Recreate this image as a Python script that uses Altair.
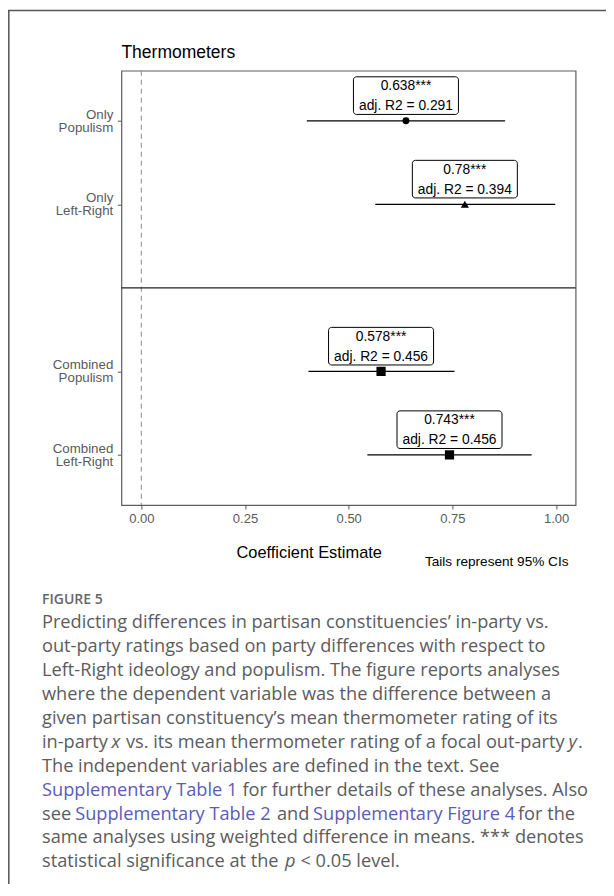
import altair as alt
import pandas as pd

# ---------------- data ----------------
models = ["Only|Populism", "Only|Left-Right", "Combined|Populism", "Combined|Left-Right"]
estimates = [0.638, 0.78, 0.578, 0.743]
ci_low = [0.399, 0.564, 0.403, 0.545]
ci_high = [0.877, 0.998, 0.755, 0.941]
stars = ["***", "***", "***", "***"]
adj_r2 = [0.291, 0.394, 0.456, 0.456]
marker = ["Populism", "Left-Right", "Combined", "Combined"]

x_ticks = [0, 0.25, 0.5, 0.75, 1.0]

chart_title = "Thermometers"
x_title = "Coefficient Estimate"
note = "Tails represent 95% CIs"
fig_label = "FIGURE 5"

caption_lines = [
    [("Predicting differences in partisan constituencies\u2019 in-party vs.", "text", "normal")],
    [("out-party ratings based on party differences with respect to", "text", "normal")],
    [("Left-Right ideology and populism. The figure reports analyses", "text", "normal")],
    [("where the dependent variable was the difference between a", "text", "normal")],
    [("given partisan constituency\u2019s mean thermometer rating of its", "text", "normal")],
    [("in-party", "text", "normal"), ("x", "text", "italic"),
     ("vs. its mean thermometer rating of a focal out-party", "text", "normal"),
     ("y", "text", "italic"), (".", "text", "normal")],
    [("The independent variables are defined in the text. See", "text", "normal")],
    [("Supplementary Table 1", "link", "normal"),
     ("for further details of these analyses. Also", "text", "normal")],
    [("see", "text", "normal"), ("Supplementary Table 2", "link", "normal"),
     ("and", "text", "normal"), ("Supplementary Figure 4", "link", "normal"),
     ("for the", "text", "normal")],
    [("same analyses using weighted difference in means. *** denotes", "text", "normal")],
    [("statistical significance at the", "text", "normal"), ("p", "text", "italic"),
     ("< 0.05 level.", "text", "normal")],
]

# ---------------- layout (pixels) ----------------
PAGE_X0, PAGE_Y0 = 121.4, 70.7          # plot origin on the page
W, H = 454.2, 434.3
XMIN, XMAX = -0.048, 1.047

# caption segment start positions (page px), same shape as caption_lines
seg_x = [
    [42], [42], [42], [42], [42],
    [42, 111.5, 126.0, 568.5, 578.0],
    [42],
    [42, 242.5],
    [42, 75.2, 277.0, 313.0, 518.0],
    [42],
    [42, 285.0, 300.5],
]
CAP_Y0, CAP_DY = 623.3, 23.9
CAP_SIZE = 18.2

df = pd.DataFrame({
    "model": models,
    "est": estimates,
    "lo": ci_low,
    "hi": ci_high,
    "marker": marker,
})
df["label1"] = [f"{e}{s}" for e, s in zip(estimates, stars)]
df["label2"] = [f"adj. R2 = {r}" for r in adj_r2]

rows = []
for i, (line, xs_) in enumerate(zip(caption_lines, seg_x)):
    for (txt, kind, style), px in zip(line, xs_):
        rows.append({
            "text": txt,
            "px": px - PAGE_X0,
            "py": CAP_Y0 + i * CAP_DY - PAGE_Y0,
            "kind": kind,
            "style": style,
        })
cap = pd.DataFrame(rows)

Y_DOMAIN = [models[0], models[1], "sep", models[2], models[3]]
FONT = "Liberation Sans"

xs = alt.Scale(domain=[XMIN, XMAX], nice=False, zero=False)
ys = alt.Scale(type="point", domain=Y_DOMAIN, padding=0.6)

x_axis = alt.Axis(
    values=x_ticks, format=".2f", grid=False, domain=False,
    tickSize=4, tickColor="#555555", tickWidth=1,
    labelColor="#5a5a5a", labelFontSize=13, labelFont=FONT, labelPadding=3,
    title=x_title, titleFontSize=16.4, titleFontWeight="normal", titleFont=FONT,
    titleColor="black", titleX=187.3, titleY=47.7, titleBaseline="middle",
    titleAlign="center",
)
y_axis = alt.Axis(
    values=models, labelExpr="split(datum.value, '|')", title=None,
    grid=False, domain=False, tickSize=4, tickColor="#555555", tickWidth=1,
    labelColor="#5a5a5a", labelFontSize=13.3, labelFont=FONT, labelLineHeight=13,
    labelPadding=4.6, labelBaseline="middle", labelOffset=-6.5,
)

base = alt.Chart(df)

ci = base.mark_rule(color="black", strokeWidth=1.3).encode(
    x=alt.X("lo:Q", scale=xs, axis=x_axis),
    x2="hi:Q",
    y=alt.Y("model:N", scale=ys, axis=y_axis),
)

zero = alt.Chart(pd.DataFrame({"ref": [0.0]})).mark_rule(
    color="#8a8a8a", strokeDash=[5, 4], strokeWidth=1
).encode(x=alt.X("ref:Q"))

sep = alt.Chart(pd.DataFrame({"sep": ["sep"], "a": [XMIN], "b": [XMAX]})).mark_rule(
    color="#222222", strokeWidth=1.4
).encode(y=alt.Y("sep:N"), x=alt.X("a:Q"), x2="b:Q")

boxes = base.mark_rect(
    fill="white", stroke="black", strokeWidth=1, cornerRadius=3,
    xOffset=-52.5, x2Offset=52.5, yOffset=-44, y2Offset=-6.4,
).encode(x="est:Q", x2="est:Q", y="model:N", y2="model:N")

txt1 = base.mark_text(font=FONT, fontSize=13.8, color="black", baseline="middle", dy=-34.7).encode(
    x="est:Q", y="model:N", text="label1:N")
txt2 = base.mark_text(font=FONT, fontSize=13.8, color="black", baseline="middle", dy=-14.7).encode(
    x="est:Q", y="model:N", text="label2:N")

points = base.mark_point(filled=True, opacity=1, color="black").encode(
    x="est:Q", y="model:N",
    shape=alt.Shape("marker:N", legend=None,
                    scale=alt.Scale(domain=["Populism", "Left-Right", "Combined"],
                                    range=["circle", "triangle-up", "square"])),
    size=alt.Size("marker:N", legend=None,
                  scale=alt.Scale(domain=["Populism", "Left-Right", "Combined"],
                                  range=[48, 85, 48])),
)

title_txt = alt.Chart(pd.DataFrame({"t": [chart_title]})).mark_text(
    font=FONT, fontSize=17.5, color="black", align="left", baseline="middle"
).encode(x=alt.value(121.4 - PAGE_X0), y=alt.value(53.5 - PAGE_Y0), text="t:N")

note_txt = alt.Chart(pd.DataFrame({"t": [note]})).mark_text(
    font=FONT, fontSize=13.6, color="black", align="right", baseline="middle"
).encode(x=alt.value(568.5 - PAGE_X0), y=alt.value(561.7 - PAGE_Y0), text="t:N")

fig_txt = alt.Chart(pd.DataFrame({"t": [fig_label]})).mark_text(
    font="Open Sans", fontSize=14, fontWeight=600, color="#666666", align="left", baseline="middle"
).encode(x=alt.value(42 - PAGE_X0), y=alt.value(600 - PAGE_Y0), text="t:N")

cap_color = alt.Color("kind:N", legend=None,
                      scale=alt.Scale(domain=["text", "link"], range=["#5b5c5e", "#5b5bb8"]))
cap_normal = alt.Chart(cap).transform_filter("datum.style == 'normal'").mark_text(
    font="Open Sans", fontSize=CAP_SIZE, align="left", baseline="middle"
).encode(x=alt.X("px:Q", scale=None, axis=None), y=alt.Y("py:Q", scale=None, axis=None),
         text="text:N", color=cap_color)
cap_italic = alt.Chart(cap).transform_filter("datum.style == 'italic'").mark_text(
    font="Open Sans", fontSize=CAP_SIZE, fontStyle="italic", align="left", baseline="middle"
).encode(x=alt.X("px:Q", scale=None, axis=None), y=alt.Y("py:Q", scale=None, axis=None),
         text="text:N", color=cap_color)

frame_top = alt.Chart(pd.DataFrame({"a": [0]})).mark_rule(color="#555555", strokeWidth=1.5).encode(
    x=alt.value(8 - PAGE_X0), x2=alt.value(620 - PAGE_X0), y=alt.value(10.5 - PAGE_Y0))
frame_left = alt.Chart(pd.DataFrame({"a": [0]})).mark_rule(color="#555555", strokeWidth=1.5).encode(
    x=alt.value(8.8 - PAGE_X0), y=alt.value(10.5 - PAGE_Y0), y2=alt.value(900 - PAGE_Y0))

chart = alt.layer(
    zero, sep, ci, boxes, txt1, txt2, points, title_txt,
    note_txt, fig_txt, cap_normal, cap_italic, frame_top, frame_left,
).properties(
    width=W, height=H,
    background="white",
    padding={"left": PAGE_X0 - 8, "top": PAGE_Y0 - 8, "right": 598 - (PAGE_X0 - 8) - W,
             "bottom": 876 - (PAGE_Y0 - 8) - H},
    autosize=alt.AutoSizeParams(type="none"),
).configure_view(
    stroke="#5e5e5e", strokeWidth=1.2
)

chart.save("out.html", embed_options={"renderer": "svg", "actions": False})
